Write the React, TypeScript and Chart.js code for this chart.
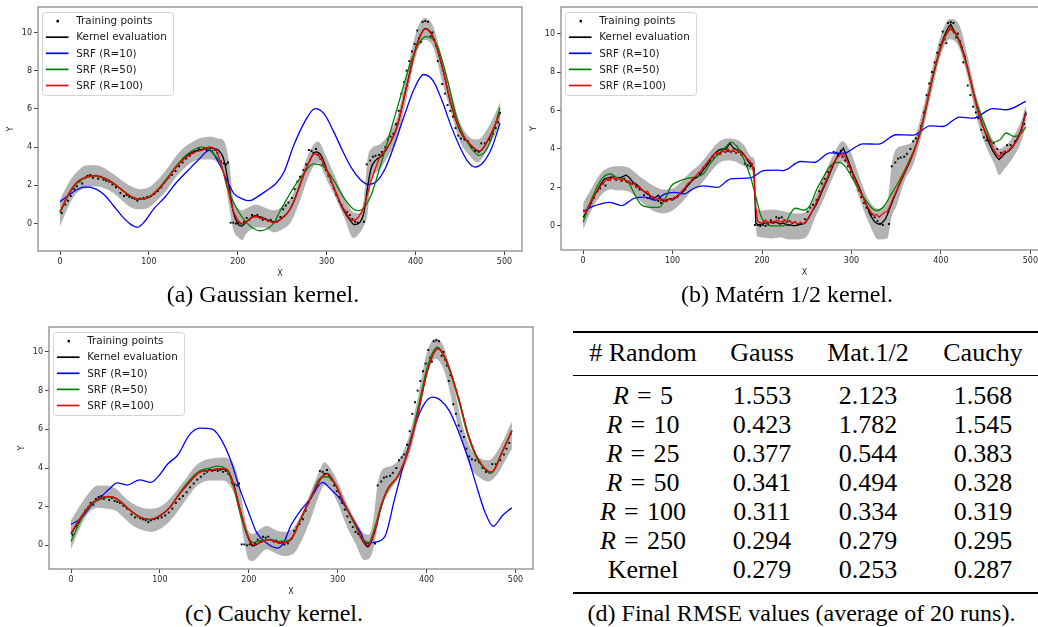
import React, { useEffect, useRef } from "react";
import { Chart, registerables } from "chart.js";

Chart.register(...registerables);

type P = [number, number];

// ---------------- data ----------------
const xTickValues = [0, 100, 200, 300, 400, 500];
const yTickValues = [0, 2, 4, 6, 8, 10];
const legendLabels = ["Training points", "Kernel evaluation", "SRF (R=10)", "SRF (R=50)", "SRF (R=100)"];

const trainingPoints: P[] = [
  [2, 0.55], [6, 1.0], [9, 1.2], [12, 1.45], [16, 1.8], [19, 1.95], [22, 2.2], [25, 2.1], [28, 2.4], [31, 2.5],
  [34, 2.55], [37, 2.4], [40, 2.5], [43, 2.35], [46, 2.45], [49, 2.3], [52, 2.25], [55, 2.2], [59, 2.05], [63, 1.9],
  [68, 1.6], [72, 1.45], [75, 1.5], [78, 1.4], [81, 1.35], [84, 1.3], [87, 1.2], [90, 1.3], [94, 1.35], [98, 1.4],
  [102, 1.45], [106, 1.55], [110, 1.7], [114, 1.9], [118, 2.2], [122, 2.4], [126, 2.55], [130, 2.75], [134, 3.0], [138, 3.2],
  [142, 3.4], [146, 3.55], [150, 3.7], [153, 3.8], [156, 3.9], [159, 3.85], [162, 3.9], [165, 3.85], [168, 3.9], [171, 3.8],
  [174, 3.85], [177, 3.7], [181, 3.25], [184, 3.15], [187, 3.1], [189, 3.2], [192, 0.05], [195, 0.05], [198, 0.0], [201, 0.05],
  [204, 0.0], [207, 0.1], [210, 0.3], [213, 0.2], [216, 0.45], [219, 0.4], [222, 0.45], [225, 0.3], [228, 0.2], [231, 0.25],
  [234, 0.15], [237, 0.2], [240, 0.05], [244, 0.1], [248, 0.35], [251, 0.75], [254, 0.95], [257, 1.1], [261, 1.35], [264, 1.8],
  [267, 2.2], [270, 2.45], [274, 2.8], [277, 3.1], [280, 3.85], [283, 3.8], [285, 3.7], [288, 3.9], [290, 3.6], [293, 3.4],
  [296, 3.1], [299, 2.8], [302, 2.5], [305, 2.2], [308, 1.85], [311, 1.5], [314, 1.2], [317, 0.95], [320, 0.7], [323, 0.6],
  [326, 0.45], [329, 0.25], [332, 0.1], [335, 0.05], [342, 0.1], [345, 3.1], [349, 3.3], [352, 3.5], [355, 3.55], [359, 3.6],
  [362, 3.75], [366, 4.0], [369, 4.4], [372, 4.55], [375, 4.7], [378, 5.2], [381, 5.9], [384, 6.8], [387, 7.4], [390, 8.0],
  [393, 8.5], [396, 9.0], [399, 9.4], [402, 10.1], [404, 9.7], [406, 9.5], [408, 10.55], [411, 10.6], [414, 10.55], [417, 9.8],
  [419, 10.0], [421, 9.6], [423, 9.3], [425, 8.5], [427, 8.8], [430, 7.3], [433, 6.8], [436, 6.2], [439, 5.9], [442, 5.6],
  [445, 5.0], [448, 4.6], [451, 4.45], [455, 4.4], [459, 4.3], [463, 4.0], [467, 3.8], [471, 3.75], [474, 4.2], [478, 4.2],
  [483, 4.4], [487, 4.7], [490, 5.0], [493, 5.3], [495, 5.8],
];

// (a) Gaussian kernel
const gaussKernel: P[] = [
  [0, 0.6], [10, 1.55], [20, 2.2], [30, 2.45], [40, 2.5], [50, 2.38], [60, 2.12], [70, 1.75], [80, 1.42], [90, 1.27],
  [100, 1.37], [110, 1.75], [120, 2.3], [130, 2.95], [140, 3.45], [150, 3.75], [160, 3.88], [170, 3.95], [178, 3.85], [184, 3.4],
  [190, 2.0], [195, 0.6], [200, 0.0], [204, -0.13], [210, 0.1], [218, 0.38], [226, 0.35], [234, 0.18], [242, 0.08], [250, 0.3],
  [258, 0.7], [265, 1.4], [272, 2.3], [280, 3.2], [288, 3.75], [294, 3.55], [300, 2.85], [308, 1.9], [318, 0.8], [326, 0.2],
  [331, -0.05], [337, 0.05], [342, 0.6], [346, 1.9], [350, 2.9], [356, 3.35], [362, 3.55], [370, 4.1], [379, 5.05], [390, 7.2],
  [401, 9.3], [411, 10.2], [420, 9.75], [431, 8.0], [439, 6.4], [450, 4.85], [461, 4.15], [472, 3.78], [483, 4.5], [495, 5.8],
];
const gaussR10: P[] = [
  [0, 1.15], [10, 1.5], [20, 1.8], [28, 1.92], [40, 1.82], [50, 1.5], [60, 0.95], [70, 0.38], [80, -0.05], [87, -0.19],
  [95, 0.1], [105, 0.75], [118, 1.38], [130, 2.1], [144, 2.78], [156, 3.35], [168, 3.83], [181, 2.96], [190, 2.05], [196, 1.56],
  [205, 1.3], [213, 1.2], [222, 1.4], [233, 1.75], [243, 2.1], [252, 2.7], [263, 4.1], [275, 5.3], [287, 6.02], [297, 5.75],
  [308, 4.8], [318, 3.8], [328, 2.9], [338, 2.3], [347, 2.05], [356, 2.2], [366, 2.9], [376, 4.1], [387, 5.6], [398, 7.0],
  [409, 7.8], [420, 7.45], [430, 6.4], [440, 5.1], [450, 4.0], [458, 3.3], [467, 2.96], [476, 3.2], [486, 4.0], [495, 5.25],
];
const gaussR50: P[] = [
  [0, 0.55], [10, 1.55], [20, 2.15], [30, 2.42], [40, 2.48], [50, 2.36], [60, 2.1], [70, 1.75], [80, 1.42], [90, 1.28],
  [100, 1.4], [110, 1.8], [120, 2.35], [130, 2.95], [140, 3.5], [150, 3.85], [158, 4.0], [166, 3.95], [174, 3.6], [181, 3.13],
  [188, 1.9], [198, 0.86], [211, 0.0], [225, -0.37], [240, 0.0], [248, 0.7], [256, 1.35], [263, 1.9], [274, 2.6], [285, 3.13],
  [297, 2.96], [308, 2.26], [319, 1.38], [330, 0.77], [337, 0.68], [349, 1.38], [360, 2.96], [371, 4.7], [383, 6.63], [394, 8.38],
  [405, 9.52], [412, 9.78], [424, 9.34], [435, 7.68], [446, 5.58], [457, 4.36], [472, 3.57], [483, 4.18], [495, 6.07],
];
const gaussR100: P[] = [
  [0, 0.63], [10, 1.6], [20, 2.2], [30, 2.45], [40, 2.5], [50, 2.37], [60, 2.1], [70, 1.76], [80, 1.42], [90, 1.27],
  [100, 1.38], [110, 1.76], [120, 2.28], [130, 2.9], [140, 3.4], [150, 3.7], [160, 3.85], [168, 4.02], [176, 3.8], [182, 3.0],
  [188, 2.0], [194, 0.8], [200, 0.2], [205, 0.0], [212, 0.2], [219, 0.36], [226, 0.3], [234, 0.15], [241, 0.05], [248, 0.2],
  [256, 0.55], [263, 1.15], [270, 2.0], [278, 3.0], [286, 3.66], [292, 3.5], [300, 2.8], [308, 1.9], [319, 0.77], [330, 0.16],
  [336, 0.35], [342, 0.9], [349, 2.08], [360, 3.48], [371, 4.18], [379, 5.05], [390, 7.15], [401, 9.25], [411, 10.17], [420, 9.7],
  [431, 8.03], [439, 6.46], [450, 4.88], [461, 4.18], [472, 3.8], [483, 4.53], [495, 5.76],
];
const gaussBandX = [0, 10, 20, 30, 40, 50, 60, 70, 80, 90, 100, 110, 120, 130, 140, 150, 160, 170, 178, 184, 190, 195, 200, 205, 210, 220, 230, 240, 250, 260, 270, 280, 290, 300, 310, 320, 330, 336, 342, 346, 350, 360, 370, 380, 390, 400, 410, 420, 430, 440, 450, 460, 470, 480, 490, 495];
const gaussBandUpper = [1.25, 2.15, 2.75, 3.05, 3.05, 2.9, 2.6, 2.25, 1.95, 1.8, 1.9, 2.3, 2.85, 3.5, 4.0, 4.3, 4.5, 4.55, 4.45, 4.35, 3.3, 1.3, 0.8, 0.7, 0.8, 1.0, 0.85, 0.7, 0.9, 1.4, 2.4, 3.7, 4.3, 3.45, 2.4, 1.35, 0.6, 0.55, 1.3, 3.4, 3.9, 4.15, 4.7, 5.7, 7.8, 9.9, 10.75, 10.3, 8.6, 6.9, 5.3, 4.55, 4.4, 4.9, 5.8, 6.35];
const gaussBandLower = [-0.15, 0.95, 1.65, 1.85, 1.95, 1.85, 1.6, 1.2, 0.85, 0.75, 0.85, 1.25, 1.75, 2.4, 2.9, 3.25, 3.35, 3.35, 3.2, 2.85, 1.0, -0.3, -0.7, -0.85, -0.5, -0.2, -0.2, -0.45, -0.3, 0.1, 1.2, 2.5, 3.2, 2.3, 1.35, 0.3, -0.75, -0.55, -0.1, 0.5, 2.2, 2.85, 3.6, 4.5, 6.6, 8.7, 9.6, 9.2, 7.4, 5.8, 4.3, 3.6, 3.2, 3.8, 4.7, 5.2];

// (b) Matern 1/2 kernel
const maternKernel: P[] = [
  [0, 0.45], [4, 0.75], [8, 1.1], [12, 1.55], [16, 1.85], [20, 2.2], [24, 2.45], [28, 2.5], [32, 2.55], [36, 2.45],
  [40, 2.5], [44, 2.55], [48, 2.65], [52, 2.5], [56, 2.25], [60, 2.15], [64, 1.95], [68, 1.8], [72, 1.65], [76, 1.55],
  [80, 1.45], [84, 1.6], [88, 1.35], [92, 1.3], [96, 1.4], [100, 1.35], [104, 1.5], [108, 1.65], [112, 1.8], [116, 2.05],
  [120, 2.25], [124, 2.45], [128, 2.55], [132, 2.75], [136, 3.0], [140, 3.25], [144, 3.6], [148, 3.8], [152, 3.95], [156, 4.0],
  [160, 4.0], [164, 4.3], [168, 4.05], [172, 3.95], [176, 3.9], [180, 3.7], [184, 3.4], [188, 3.15], [191, 3.0], [193, 0.15],
  [196, 0.05], [200, 0.1], [204, 0.15], [208, 0.2], [212, 0.15], [216, 0.2], [220, 0.1], [224, 0.15], [228, 0.05], [232, 0.05],
  [236, 0.0], [240, 0.05], [244, 0.1], [248, 0.15], [252, 0.4], [256, 0.75], [260, 1.05], [264, 1.45], [268, 1.9], [272, 2.3],
  [276, 2.75], [280, 3.2], [284, 3.6], [288, 3.85], [291, 4.05], [294, 3.7], [298, 3.2], [302, 2.7], [306, 2.3], [310, 1.85],
  [314, 1.4], [318, 0.95], [322, 0.5], [326, 0.2], [330, 0.1], [334, 0.15], [338, 0.35], [342, 0.8], [346, 1.3], [350, 1.75],
  [355, 2.3], [360, 2.8], [365, 3.3], [370, 3.9], [375, 4.6], [380, 5.5], [385, 6.5], [390, 7.6], [395, 8.5], [400, 9.4],
  [404, 9.9], [408, 10.3], [411, 10.5], [414, 10.2], [418, 9.9], [422, 9.5], [426, 8.9], [430, 8.2], [434, 7.4], [438, 6.6],
  [442, 5.9], [446, 5.3], [450, 4.8], [454, 4.3], [458, 3.9], [462, 3.6], [465, 3.45], [468, 3.6], [472, 3.8], [476, 3.9],
  [480, 4.1], [485, 4.5], [490, 5.0], [495, 5.95],
];
const maternR10: P[] = [
  [0, 0.75], [10, 1.0], [20, 1.15], [30, 1.23], [43, 1.06], [57, 1.44], [69, 1.5], [80, 1.35], [91, 1.65], [102, 1.74],
  [113, 1.67], [124, 1.96], [135, 2.08], [150, 2.0], [165, 2.45], [187, 2.5], [202, 2.88], [217, 2.9], [224, 2.88], [243, 3.35],
  [258, 3.3], [276, 3.8], [291, 3.78], [313, 4.27], [330, 4.25], [350, 4.74], [369, 4.72], [388, 5.2], [402, 5.17], [421, 5.66],
  [436, 5.6], [458, 6.1], [473, 6.04], [495, 6.47],
];
const maternR50: P[] = [
  [0, 0.2], [9, 1.35], [20, 2.4], [30, 2.7], [39, 2.48], [50, 2.3], [57, 1.7], [65, 1.1], [76, 0.97], [85, 0.97],
  [93, 1.53], [98, 2.05], [106, 2.3], [117, 2.48], [128, 2.57], [135, 2.74], [141, 3.17], [150, 3.7], [160, 4.13], [165, 4.36],
  [172, 4.13], [180, 3.44], [187, 2.57], [193, 1.53], [199, 0.49], [204, 0.14], [210, 0.0], [224, 0.0], [232, 0.66], [237, 0.92],
  [247, 0.83], [254, 1.1], [261, 1.88], [269, 2.57], [276, 3.1], [286, 3.3], [293, 3.1], [302, 2.4], [313, 1.53], [323, 0.92],
  [328, 0.8], [336, 1.0], [343, 1.53], [354, 2.4], [365, 3.44], [377, 4.83], [388, 7.08], [395, 8.47], [407, 10.03], [412, 10.2],
  [421, 9.5], [432, 7.78], [440, 6.4], [451, 5.0], [458, 4.34], [466, 4.48], [473, 4.83], [482, 4.65], [488, 4.74], [495, 5.14],
];
const maternR100: P[] = [
  [0, 0.85], [3, 0.7], [6, 1.0], [9, 1.3], [12, 1.5], [15, 1.8], [18, 1.95], [21, 2.2], [24, 2.3], [27, 2.45],
  [30, 2.35], [33, 2.55], [36, 2.4], [39, 2.5], [42, 2.35], [45, 2.45], [48, 2.3], [51, 2.35], [54, 2.15], [57, 2.2],
  [60, 2.0], [63, 2.05], [66, 1.85], [69, 1.75], [72, 1.8], [75, 1.55], [78, 1.5], [81, 1.35], [84, 1.45], [87, 1.3],
  [90, 1.4], [93, 1.25], [96, 1.4], [99, 1.35], [102, 1.5], [105, 1.45], [108, 1.7], [111, 1.85], [114, 2.0], [117, 2.2],
  [120, 2.3], [123, 2.45], [126, 2.6], [129, 2.75], [132, 2.9], [135, 3.1], [138, 3.25], [141, 3.45], [144, 3.55], [147, 3.75],
  [150, 3.8], [153, 3.7], [156, 3.9], [159, 3.85], [162, 4.0], [165, 3.85], [168, 3.95], [171, 3.8], [174, 3.9], [177, 3.75],
  [180, 3.7], [183, 3.5], [186, 3.4], [189, 3.2], [191, 2.6], [193, 1.0], [195, 0.25], [198, 0.15], [201, 0.2], [204, 0.3],
  [207, 0.15], [210, 0.25], [213, 0.2], [216, 0.3], [219, 0.25], [222, 0.2], [225, 0.3], [228, 0.2], [231, 0.25], [234, 0.15],
  [237, 0.2], [240, 0.1], [243, 0.2], [246, 0.1], [249, 0.2], [252, 0.45], [256, 0.75], [260, 1.15], [264, 1.6], [268, 2.0],
  [272, 2.4], [276, 2.85], [280, 3.3], [284, 3.55], [288, 3.7], [291, 3.75], [294, 3.5], [298, 3.05], [302, 2.6], [306, 2.2],
  [310, 1.75], [314, 1.35], [318, 1.0], [322, 0.7], [325, 0.55], [328, 0.6], [331, 0.45], [334, 0.6], [337, 0.7], [340, 0.75],
  [343, 1.05], [346, 1.4], [350, 1.8], [355, 2.35], [360, 2.85], [365, 3.35], [370, 3.9], [375, 4.6], [380, 5.5], [385, 6.55],
  [390, 7.6], [395, 8.5], [400, 9.35], [404, 9.8], [408, 10.1], [411, 10.35], [414, 10.05], [418, 9.95], [422, 9.4], [426, 8.85],
  [430, 8.15], [434, 7.35], [438, 6.55], [442, 5.85], [446, 5.25], [450, 4.85], [453, 4.6], [456, 4.3], [459, 4.0], [462, 3.75],
  [465, 3.6], [468, 3.75], [471, 3.9], [474, 3.85], [477, 4.0], [480, 4.15], [484, 4.35], [488, 4.7], [491, 5.1], [495, 5.9],
];
const maternBandX = [0, 10, 20, 30, 40, 50, 60, 70, 80, 90, 100, 110, 120, 130, 140, 150, 160, 170, 180, 188, 192, 194, 200, 210, 220, 230, 240, 250, 260, 270, 280, 290, 300, 310, 320, 330, 340, 345, 350, 360, 370, 380, 390, 400, 410, 420, 430, 440, 450, 460, 465, 470, 480, 490, 495];
const maternBandUpper = [1.2, 2.0, 2.75, 3.05, 3.1, 3.05, 2.7, 2.35, 2.05, 1.9, 1.95, 2.3, 2.8, 3.2, 3.75, 4.3, 4.55, 4.5, 4.2, 3.6, 3.4, 0.9, 0.8, 0.85, 0.8, 0.7, 0.65, 0.75, 1.6, 2.7, 3.7, 4.4, 3.75, 2.4, 1.3, 0.9, 1.2, 3.2, 4.0, 4.2, 4.5, 6.1, 8.1, 9.9, 10.75, 10.5, 8.8, 6.7, 5.3, 4.3, 4.0, 4.1, 4.6, 5.5, 6.3];
const maternBandLower = [-0.2, 0.9, 1.6, 1.9, 1.85, 1.8, 1.45, 1.05, 0.75, 0.65, 0.8, 1.2, 1.75, 2.1, 2.65, 3.2, 3.4, 3.35, 3.1, 2.9, 2.8, -0.5, -0.6, -0.65, -0.6, -0.7, -0.7, -0.55, 0.5, 1.5, 2.6, 3.35, 2.65, 1.3, 0.1, -0.7, -0.65, 0.5, 1.0, 2.4, 3.3, 5.0, 7.0, 8.9, 9.7, 9.3, 7.7, 5.6, 4.2, 3.2, 2.65, 2.9, 3.5, 4.4, 5.2];

// (c) Cauchy kernel
const cauchyKernel: P[] = [
  [0, 0.6], [12, 1.5], [24, 2.2], [35, 2.47], [43, 2.52], [52, 2.4], [65, 1.88], [77, 1.48], [88, 1.33], [99, 1.5],
  [111, 1.95], [122, 2.65], [133, 3.25], [145, 3.8], [156, 3.88], [167, 3.95], [175, 3.93], [183, 3.15], [190, 1.9], [198, 0.55],
  [205, -0.02], [213, 0.15], [224, 0.3], [235, 0.12], [247, 0.28], [258, 1.3], [269, 2.4], [281, 3.45], [288, 3.72], [298, 3.1],
  [307, 2.2], [319, 1.15], [328, 0.25], [334, -0.08], [341, 0.6], [349, 2.0], [356, 2.9], [368, 3.6], [379, 4.85], [390, 6.8],
  [402, 9.2], [413, 10.18], [424, 9.35], [436, 7.6], [447, 5.7], [458, 4.45], [473, 3.78], [485, 4.82], [496, 5.92],
];
const cauchyR10: P[] = [
  [0, 1.08], [12, 1.43], [24, 2.13], [35, 2.57], [43, 2.91], [52, 3.23], [63, 3.12], [77, 3.39], [90, 3.26], [99, 3.61],
  [109, 4.22], [120, 4.66], [133, 5.7], [145, 6.06], [158, 6.02], [167, 5.62], [179, 4.48], [190, 2.91], [200, 1.69], [209, 0.65],
  [220, 0.12], [232, -0.14], [239, 0.12], [247, 0.99], [258, 1.78], [269, 2.39], [283, 3.26], [292, 2.91], [303, 2.39], [315, 1.52],
  [326, 0.65], [332, 0.12], [341, 0.16], [353, 0.45], [364, 2.39], [375, 4.31], [387, 6.23], [398, 7.36], [407, 7.66], [417, 7.45],
  [426, 6.93], [436, 5.88], [447, 4.48], [455, 3.26], [466, 1.69], [475, 0.99], [485, 1.52], [496, 1.95],
];
const cauchyR50: P[] = [
  [0, 0.2], [12, 1.4], [24, 2.15], [35, 2.42], [43, 2.5], [52, 2.38], [65, 1.85], [77, 1.47], [88, 1.33], [99, 1.5],
  [111, 1.95], [122, 2.7], [133, 3.35], [145, 3.85], [156, 4.0], [165, 4.1], [175, 3.9], [183, 3.0], [190, 1.7], [198, 0.55],
  [205, 0.15], [213, 0.25], [224, 0.3], [235, 0.2], [247, 0.3], [258, 1.3], [269, 2.4], [281, 3.5], [288, 3.55], [298, 3.1],
  [307, 2.2], [319, 1.1], [328, 0.35], [335, 0.15], [341, 0.8], [349, 2.1], [356, 2.85], [368, 3.6], [379, 4.9], [390, 7.0],
  [402, 9.4], [412, 10.25], [424, 9.3], [436, 7.5], [447, 5.6], [458, 4.4], [473, 3.75], [485, 4.8], [496, 5.95],
];
const cauchyR100: P[] = [
  [0, 0.65], [12, 1.52], [24, 2.22], [35, 2.48], [43, 2.53], [52, 2.39], [65, 1.87], [77, 1.48], [88, 1.34], [99, 1.52],
  [111, 1.95], [122, 2.65], [133, 3.26], [145, 3.79], [156, 3.87], [167, 3.96], [175, 3.96], [183, 3.09], [190, 1.87], [198, 0.65],
  [205, 0.03], [213, 0.16], [224, 0.3], [235, 0.12], [247, 0.3], [258, 1.34], [269, 2.39], [281, 3.44], [288, 3.7], [298, 3.09],
  [307, 2.22], [319, 1.17], [328, 0.3], [334, 0.0], [341, 0.65], [349, 2.04], [356, 2.91], [368, 3.61], [379, 4.83], [390, 6.75],
  [402, 9.2], [413, 10.16], [424, 9.37], [436, 7.63], [447, 5.72], [458, 4.48], [473, 3.79], [485, 4.83], [496, 5.92],
];
const cauchyBandX = [0, 10, 20, 30, 40, 50, 60, 70, 80, 90, 100, 110, 120, 130, 140, 150, 160, 170, 180, 188, 195, 200, 205, 210, 220, 230, 240, 250, 260, 270, 280, 285, 290, 300, 310, 320, 330, 335, 340, 345, 350, 360, 370, 380, 390, 400, 410, 420, 430, 440, 450, 460, 470, 480, 490, 496];
const cauchyBandUpper = [1.3, 2.05, 2.7, 3.1, 3.1, 2.95, 2.5, 2.15, 1.95, 1.9, 2.0, 2.35, 2.9, 3.5, 4.1, 4.4, 4.5, 4.55, 4.4, 3.5, 1.6, 0.7, 0.6, 0.75, 1.0, 0.8, 0.7, 0.9, 1.7, 2.8, 3.9, 4.3, 4.1, 3.3, 2.2, 1.3, 0.6, 0.55, 1.3, 3.2, 3.9, 4.1, 4.5, 5.6, 7.6, 9.9, 10.7, 10.2, 8.4, 6.3, 5.0, 4.5, 4.4, 4.9, 5.8, 6.4];
const cauchyBandLower = [-0.2, 0.9, 1.7, 1.95, 1.9, 1.8, 1.4, 1.0, 0.8, 0.7, 0.85, 1.2, 1.75, 2.4, 3.0, 3.3, 3.35, 3.35, 3.0, 2.0, 0.2, -0.75, -0.8, -0.6, -0.2, -0.4, -0.55, -0.45, 0.3, 1.4, 2.7, 3.1, 3.0, 2.2, 1.0, 0.1, -0.75, -0.7, -0.2, 1.0, 2.0, 2.9, 3.6, 4.6, 6.4, 8.7, 9.65, 9.0, 7.2, 5.3, 4.0, 3.5, 3.3, 3.7, 4.5, 5.0];

// (d) table
const tableHeader = ["# Random", "Gauss", "Mat.1/2", "Cauchy"];
const tableRValues = ["5", "10", "25", "50", "100", "250"];
const tableLastRowLabel = "Kernel";
const gaussRmse = ["1.553", "0.423", "0.377", "0.341", "0.311", "0.294", "0.279"];
const maternRmse = ["2.123", "1.782", "0.544", "0.494", "0.334", "0.279", "0.253"];
const cauchyRmse = ["1.568", "1.545", "0.383", "0.328", "0.319", "0.295", "0.287"];

const captions = ["(a) Gaussian kernel.", "(b) Matérn 1/2 kernel.", "(c) Cauchy kernel.", "(d) Final RMSE values (average of 20 runs)."];

// ---------------- styles / layout ----------------
const COLORS = { kernel: "#000000", r10: "#0000ff", r50: "#008000", r100: "#ff0000", band: "#b3b3b3" };
const legendColors = ["#000000", COLORS.kernel, COLORS.r10, COLORS.r50, COLORS.r100];

type PanelSpec = {
  left: number; top: number; width: number; height: number; padTop: number;
  yMin: number; yMax: number; jagged: boolean;
  kernel: P[]; r10: P[]; r50: P[]; r100: P[];
  bandX: number[]; bandUpper: number[]; bandLower: number[];
};

const panels: PanelSpec[] = [
  { left: 0, top: 0, width: 526, height: 281, padTop: 7, yMin: -1.43, yMax: 11.33, jagged: false,
    kernel: gaussKernel, r10: gaussR10, r50: gaussR50, r100: gaussR100,
    bandX: gaussBandX, bandUpper: gaussBandUpper, bandLower: gaussBandLower },
  { left: 523, top: 0, width: 529, height: 280, padTop: 7, yMin: -1.25, yMax: 11.38, jagged: true,
    kernel: maternKernel, r10: maternR10, r50: maternR50, r100: maternR100,
    bandX: maternBandX, bandUpper: maternBandUpper, bandLower: maternBandLower },
  { left: 11, top: 320, width: 526, height: 279, padTop: 7, yMin: -1.22, yMax: 11.29, jagged: false,
    kernel: cauchyKernel, r10: cauchyR10, r50: cauchyR50, r100: cauchyR100,
    bandX: cauchyBandX, bandUpper: cauchyBandUpper, bandLower: cauchyBandLower },
];

const toXY = (a: P[]) => a.map(([x, y]) => ({ x, y }));
const zipXY = (xs: number[], ys: number[]) => xs.map((x, i) => ({ x, y: ys[i] }));

const mplPlugin = {
  id: "mplFrameLegend",
  afterDatasetsDraw(chart: any) {
    const { ctx, chartArea: a } = chart;
    ctx.save();
    ctx.strokeStyle = "#8c8c8c";
    ctx.lineWidth = 1.3;
    ctx.strokeRect(a.left, a.top, a.right - a.left, a.bottom - a.top);

    const lx = a.left + 4.5, ly = a.top + 5.5, lw = 131, lh = 83;
    const r = 3;
    ctx.beginPath();
    ctx.moveTo(lx + r, ly);
    ctx.lineTo(lx + lw - r, ly);
    ctx.quadraticCurveTo(lx + lw, ly, lx + lw, ly + r);
    ctx.lineTo(lx + lw, ly + lh - r);
    ctx.quadraticCurveTo(lx + lw, ly + lh, lx + lw - r, ly + lh);
    ctx.lineTo(lx + r, ly + lh);
    ctx.quadraticCurveTo(lx, ly + lh, lx, ly + lh - r);
    ctx.lineTo(lx, ly + r);
    ctx.quadraticCurveTo(lx, ly, lx + r, ly);
    ctx.closePath();
    ctx.fillStyle = "rgba(255,255,255,0.85)";
    ctx.fill();
    ctx.strokeStyle = "#d4d4d4";
    ctx.lineWidth = 1;
    ctx.stroke();

    ctx.font = '10.4px "DejaVu Sans"';
    ctx.textBaseline = "middle";
    ctx.textAlign = "left";
    legendLabels.forEach((lab, i) => {
      const cy = ly + 8.6 + i * 16.1;
      if (i === 0) {
        ctx.fillStyle = legendColors[0];
        ctx.fillRect(lx + 14, cy - 1.2, 2.5, 2.5);
      } else {
        ctx.strokeStyle = legendColors[i];
        ctx.lineWidth = 1.7;
        ctx.beginPath();
        ctx.moveTo(lx + 3.4, cy);
        ctx.lineTo(lx + 26, cy);
        ctx.stroke();
      }
      ctx.fillStyle = "#1a1a1a";
      ctx.fillText(lab, lx + 33.7, cy + 0.5);
    });
    ctx.restore();
  },
};

function Panel({ spec }: { spec: PanelSpec }) {
  const ref = useRef<HTMLCanvasElement>(null);
  useEffect(() => {
    const lineBase = (color: string, order: number, jag: boolean) => ({
      type: "line" as const,
      borderColor: color,
      backgroundColor: color,
      borderWidth: 1.3,
      pointRadius: 0,
      showLine: true,
      fill: false,
      order,
      ...(jag ? { tension: 0 } : { cubicInterpolationMode: "monotone" as const }),
    });
    const chart = new Chart(ref.current!, {
      type: "scatter",
      data: {
        datasets: [
          { ...lineBase(COLORS.r100, 1, spec.jagged), data: toXY(spec.r100) },
          { ...lineBase(COLORS.r50, 2, false), data: toXY(spec.r50) },
          { ...lineBase(COLORS.r10, 3, false), data: toXY(spec.r10) },
          { ...lineBase(COLORS.kernel, 4, spec.jagged), data: toXY(spec.kernel) },
          {
            type: "scatter" as const, data: toXY(trainingPoints), order: 5,
            pointStyle: "rect", pointRadius: 1.35, backgroundColor: "#000", borderColor: "#000", borderWidth: 0, showLine: false,
          },
          {
            type: "line" as const, data: zipXY(spec.bandX, spec.bandUpper), order: 6,
            borderWidth: 0, pointRadius: 0, showLine: true, fill: false,
            borderColor: "rgba(0,0,0,0)", cubicInterpolationMode: "monotone" as const,
          },
          {
            type: "line" as const, data: zipXY(spec.bandX, spec.bandLower), order: 7,
            borderWidth: 0, pointRadius: 0, showLine: true, fill: "-1",
            borderColor: "rgba(0,0,0,0)", backgroundColor: COLORS.band, cubicInterpolationMode: "monotone" as const,
          },
        ] as any,
      },
      options: {
        animation: false,
        responsive: false,
        devicePixelRatio: 1,
        events: [],
        layout: { padding: { left: 0, top: spec.padTop, right: 1, bottom: 0 } },
        plugins: { legend: { display: false }, tooltip: { enabled: false } },
        scales: {
          x: {
            type: "linear", min: -24.75, max: 519.75,
            afterBuildTicks: (s: any) => { s.ticks = xTickValues.map((v) => ({ value: v })); },
            afterFit: (s: any) => { s.height = 30; },
            grid: { display: true, drawOnChartArea: false, drawTicks: true, tickLength: 4, tickColor: "#444", tickWidth: 1 },
            border: { display: false },
            ticks: { font: { family: "DejaVu Sans", size: 8 }, color: "#262626", padding: 2, autoSkip: false, maxRotation: 0 },
            title: { display: true, text: "X", font: { family: "DejaVu Sans", size: 8 }, color: "#262626", padding: { top: 0, bottom: 2.5 } },
          },
          y: {
            type: "linear", min: spec.yMin, max: spec.yMax,
            afterBuildTicks: (s: any) => { s.ticks = yTickValues.map((v) => ({ value: v })); },
            afterFit: (s: any) => { s.width = 38; },
            grid: { display: true, drawOnChartArea: false, drawTicks: true, tickLength: 4, tickColor: "#444", tickWidth: 1 },
            border: { display: false },
            ticks: { font: { family: "DejaVu Sans", size: 8 }, color: "#262626", padding: 2, autoSkip: false },
            title: { display: true, text: "Y", font: { family: "DejaVu Sans", size: 8 }, color: "#262626", padding: { top: 6, bottom: 0 } },
          },
        },
      } as any,
      plugins: [mplPlugin],
    });
    return () => chart.destroy();
  }, [spec]);
  return (
    <canvas
      ref={ref}
      width={spec.width}
      height={spec.height}
      style={{ position: "absolute", left: spec.left, top: spec.top, width: spec.width, height: spec.height }}
    />
  );
}

const serif = '"Liberation Serif", "Times New Roman", serif';

function Caption({ text, cx, baseline }: { text: string; cx: number; baseline: number }) {
  return (
    <div style={{ position: "absolute", left: cx - 300, width: 600, top: baseline - 22.5, fontFamily: serif, fontSize: 24, lineHeight: "28.8px", textAlign: "center", color: "#000", whiteSpace: "nowrap" }}>
      {text}
    </div>
  );
}

function Cell({ cx, baseline, children }: { cx: number; baseline: number; children: React.ReactNode }) {
  return (
    <div style={{ position: "absolute", left: cx - 100, width: 200, top: baseline - 24.4, fontFamily: serif, fontSize: 26, lineHeight: "31.2px", textAlign: "center", color: "#000", whiteSpace: "nowrap" }}>
      {children}
    </div>
  );
}

export default function App() {
  const colX = [643, 762, 868, 983];
  const rowBase = [404.3, 433.3, 462.7, 491.7, 520, 549.3, 578.3];
  const rowLabels: React.ReactNode[] = [
    ...tableRValues.map((v) => (
      <span key={v}><i>R</i><span style={{ margin: "0 0.32em" }}>=</span>{v}</span>
    )),
    tableLastRowLabel,
  ];
  return (
    <div style={{ position: "absolute", left: 0, top: 0, width: 1038, height: 627, overflow: "hidden", background: "#fff" }}>
      {panels.map((p, i) => <Panel key={i} spec={p} />)}
      <Caption text={captions[0]} cx={263} baseline={302} />
      <Caption text={captions[1]} cx={787} baseline={302} />
      <Caption text={captions[2]} cx={274} baseline={621} />
      <Caption text={captions[3]} cx={801.5} baseline={621} />

      <div style={{ position: "absolute", left: 573, top: 331.3, width: 470, height: 2, background: "#000" }} />
      <div style={{ position: "absolute", left: 573, top: 374.7, width: 470, height: 1.2, background: "#000" }} />
      <div style={{ position: "absolute", left: 573, top: 591.7, width: 470, height: 2, background: "#000" }} />

      {tableHeader.map((h, i) => <Cell key={"h" + i} cx={colX[i]} baseline={361.7}>{h}</Cell>)}
      {rowLabels.map((lab, r) => (
        <React.Fragment key={"r" + r}>
          <Cell cx={colX[0]} baseline={rowBase[r]}>{lab}</Cell>
          <Cell cx={colX[1]} baseline={rowBase[r]}>{gaussRmse[r]}</Cell>
          <Cell cx={colX[2]} baseline={rowBase[r]}>{maternRmse[r]}</Cell>
          <Cell cx={colX[3]} baseline={rowBase[r]}>{cauchyRmse[r]}</Cell>
        </React.Fragment>
      ))}
    </div>
  );
}
